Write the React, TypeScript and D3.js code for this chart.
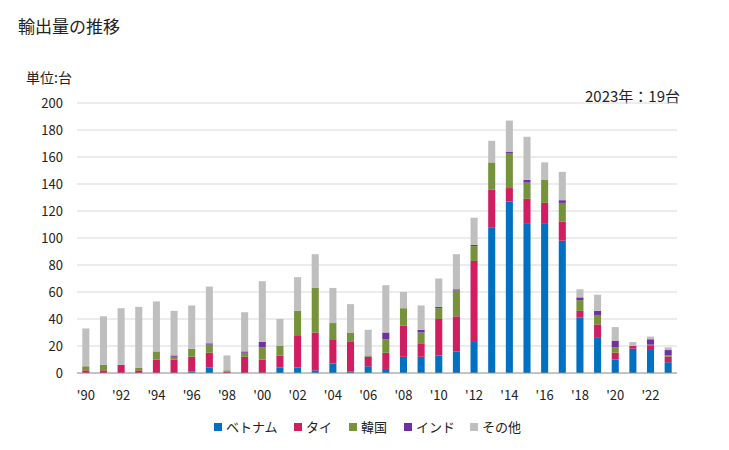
import React from "react";
import * as d3 from "d3";

const years = d3.range(1990, 2024);
const vietnam = [0,0,0,0,0,0,1,4,0,0,0,4,4,2,7,1,5,3,12,12,13,16,23,108,127,111,111,98,41,26,10,18,17,8];
const thai =    [2,2,6,2,10,10,11,11,1,12,10,9,24,28,18,22,7,12,23,10,27,26,60,28,10,18,15,14,5,10,5,2,3,4];
const korea =   [3,4,0,2,6,2,6,6,1,3,9,7,18,33,12,7,1,10,13,8,8,19,11,20,26,12,17,14,8,7,4,0,1,1];
const india =   [0,0,0,0,0,1,0,1,0,1,4,0,0,0,0,0,0,5,0,2,1,1,1,0,1,2,0,2,2,3,5,0,4,4];
const other =   [28,36,42,45,37,33,32,42,11,29,45,20,25,25,26,21,19,35,12,18,21,26,20,16,23,32,13,21,6,12,10,3,2,2];

const seriesNames = ["ベトナム", "タイ", "韓国", "インド", "その他"];
const seriesColors = ["#0070C0", "#CF1F61", "#76933C", "#7030A0", "#BFBFBF"];
const yTicks = [0, 20, 40, 60, 80, 100, 120, 140, 160, 180, 200];

const FONT = "'Noto Sans CJK JP', 'Noto Sans', sans-serif";

export default function App() {
  const W = 729, H = 450;
  const left = 77, right = 677, top = 103, bottom = 373;
  const rows = years.map((y, i) => ({
    year: y, v0: vietnam[i], v1: thai[i], v2: korea[i], v3: india[i], v4: other[i],
  }));
  const keys = ["v0", "v1", "v2", "v3", "v4"];
  const stack = d3.stack<any>().keys(keys)(rows);
  const x = d3.scaleBand<number>().domain(years).range([left, right]).paddingInner(0.6).paddingOuter(0.3);
  const y = d3.scaleLinear().domain([0, 200]).range([bottom, top]);

  const legendX = [218, 298, 353, 408, 474];

  return (
    <svg width={W} height={H} style={{ position: "absolute", left: 0, top: 0, background: "#fff" }} fontFamily={FONT}>
      <text x={18} y={33} fontSize={17} fill="#222">輸出量の推移</text>
      <text x={26} y={83} fontSize={14} fill="#222">単位:台</text>
      <text x={680} y={102} fontSize={15} fill="#222" textAnchor="end">2023年：19台</text>
      {yTicks.map((t) => (
        <g key={t}>
          {t > 0 && <line x1={left} x2={right} y1={y(t)} y2={y(t)} stroke="#D9D9D9" strokeWidth={1} />}
          <text x={63} y={y(t) + 4.5} fontSize={13} fill="#222" textAnchor="end">{t}</text>
        </g>
      ))}
      {stack.map((s, si) => (
        <g key={si} fill={seriesColors[si]}>
          {s.map((d: any, i: number) => (
            <rect key={i} x={x(d.data.year)} width={x.bandwidth()} y={y(d[1])} height={Math.max(0, y(d[0]) - y(d[1]))} />
          ))}
        </g>
      ))}
      <line x1={left} x2={right} y1={bottom} y2={bottom} stroke="#888" strokeWidth={1} />
      {years.filter((yr) => yr % 2 === 0).map((yr) => (
        <text key={yr} x={(x(yr) as number) + x.bandwidth() / 2} y={400} fontSize={13} fill="#222" textAnchor="middle">
          {"'" + String(yr % 100).padStart(2, "0")}
        </text>
      ))}
      {seriesNames.map((n, i) => (
        <g key={n}>
          <rect x={legendX[i] - 4} y={423} width={8} height={8} fill={seriesColors[i]} />
          <text x={legendX[i] + 8} y={432} fontSize={13} fill="#222">{n}</text>
        </g>
      ))}
    </svg>
  );
}
